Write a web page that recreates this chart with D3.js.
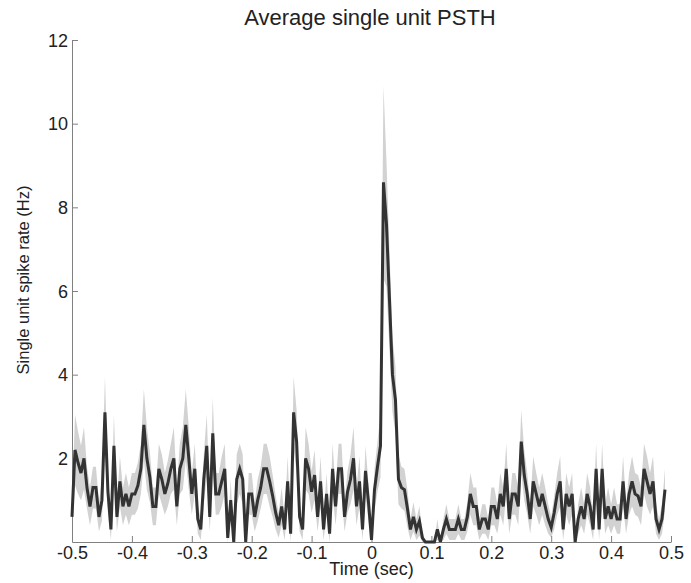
<!DOCTYPE html>
<html>
<head>
<meta charset="utf-8">
<script src="https://cdn.jsdelivr.net/npm/d3@7"></script>
<style>
  body { margin: 0; background: #fff; }
  svg { display: block; font-family: "Liberation Sans", Arial, sans-serif; }
</style>
</head>
<body>
<div id="chart"></div>
<script>
// mean single unit rate (Hz), one value per 5 ms bin starting at -0.5 s
const meanRate = [
  0.6, 2.2, 1.9, 1.65, 2.0, 1.3, 0.85, 1.3, 1.3, 0.6,
  1.0, 3.1, 1.2, 0.3, 2.3, 0.6, 1.45, 0.85, 1.15, 0.85,
  1.15, 1.15, 1.35, 1.75, 2.8, 2.0, 1.55, 0.85, 0.85, 1.75,
  1.5, 1.15, 1.4, 1.75, 2.0, 0.85, 1.75, 2.0, 2.8, 2.0,
  1.15, 1.75, 0.55, 0.3, 1.5, 2.3, 0.6, 2.6, 1.15, 1.15,
  1.45, 1.75, 0.1, 1.0, 0.0, 1.5, 1.75, 1.5, 0.0, 1.15,
  1.15, 0.6, 1.0, 1.3, 1.75, 1.75, 1.45, 1.1, 0.7, 0.4,
  0.85, 0.3, 1.45, 0.2, 3.1, 2.4, 0.6, 0.3, 2.0, 1.75,
  1.2, 1.6, 0.6, 1.45, 0.3, 1.15, 0.2, 1.75, 0.85, 1.75,
  1.75, 0.6, 1.2, 1.5, 2.0, 0.85, 1.45, 0.3, 1.7, 0.95,
  0.05, 1.25, 1.8, 2.3, 8.6, 7.6, 5.8, 4.0, 3.4, 1.5,
  1.3, 1.25, 0.8, 0.3, 0.6, 0.3, 0.5, 0.1, 0.0, 0.0,
  0.0, 0.0, 0.3, 0.0, 0.3, 0.55, 0.3, 0.3, 0.3, 0.55,
  0.3, 0.3, 0.6, 1.15, 0.85, 0.85, 0.3, 0.55, 0.55, 0.3,
  0.85, 0.85, 0.55, 1.15, 0.85, 1.75, 0.55, 1.15, 1.15, 0.85,
  2.4, 1.6, 1.15, 0.55, 1.45, 1.15, 0.85, 1.15, 0.85, 0.55,
  0.35, 0.7, 1.15, 1.45, 0.3, 1.15, 0.85, 1.15, 0.0, 0.55,
  0.85, 0.55, 1.15, 0.85, 0.3, 1.75, 0.3, 1.75, 0.55, 0.85,
  0.55, 0.85, 0.55, 0.55, 1.45, 0.55, 1.15, 1.45, 1.15, 1.1,
  0.85, 1.75, 1.45, 1.15, 1.45, 0.55, 0.3, 0.55, 1.25
];

// standard error of the mean for each bin (Hz)
const semRate = [
  0.35, 0.85, 0.75, 0.65, 0.75, 0.5, 0.45, 0.5, 0.5, 0.35,
  0.5, 0.85, 0.5, 0.25, 0.75, 0.35, 0.6, 0.45, 0.5, 0.45,
  0.5, 0.5, 0.55, 0.6, 0.85, 0.75, 0.6, 0.45, 0.45, 0.6,
  0.6, 0.5, 0.55, 0.6, 0.75, 0.45, 0.6, 0.75, 0.85, 0.75,
  0.5, 0.6, 0.35, 0.25, 0.6, 0.75, 0.35, 0.85, 0.5, 0.5,
  0.6, 0.6, 0.15, 0.5, 0.0, 0.6, 0.6, 0.6, 0.0, 0.5,
  0.5, 0.35, 0.5, 0.5, 0.6, 0.6, 0.6, 0.5, 0.4, 0.3,
  0.45, 0.25, 0.6, 0.2, 0.85, 0.75, 0.35, 0.25, 0.75, 0.6,
  0.5, 0.6, 0.35, 0.6, 0.25, 0.5, 0.2, 0.6, 0.45, 0.6,
  0.6, 0.35, 0.5, 0.6, 0.75, 0.45, 0.6, 0.25, 0.6, 0.45,
  0.1, 0.5, 0.6, 0.75, 2.3, 1.5, 1.2, 0.9, 0.8, 0.6,
  0.5, 0.5, 0.45, 0.25, 0.35, 0.25, 0.35, 0.1, 0.0, 0.0,
  0.0, 0.0, 0.25, 0.0, 0.25, 0.35, 0.25, 0.25, 0.25, 0.35,
  0.25, 0.25, 0.35, 0.5, 0.45, 0.45, 0.25, 0.35, 0.35, 0.25,
  0.45, 0.45, 0.35, 0.5, 0.45, 0.6, 0.35, 0.5, 0.5, 0.45,
  0.75, 0.6, 0.5, 0.35, 0.6, 0.5, 0.45, 0.5, 0.45, 0.35,
  0.25, 0.4, 0.5, 0.6, 0.25, 0.5, 0.45, 0.5, 0.0, 0.35,
  0.45, 0.35, 0.5, 0.45, 0.25, 0.6, 0.25, 0.6, 0.35, 0.45,
  0.35, 0.45, 0.35, 0.35, 0.6, 0.35, 0.5, 0.6, 0.5, 0.5,
  0.45, 0.6, 0.6, 0.5, 0.6, 0.35, 0.25, 0.35, 0.5
];

const binStart = -0.5; // sec
const binWidth = 0.005; // sec

const xTicks = [-0.5, -0.4, -0.3, -0.2, -0.1, 0, 0.1, 0.2, 0.3, 0.4, 0.5];
const yTicks = [2, 4, 6, 8, 10, 12];

const CHART_CONFIG = {
  width: 691,
  height: 583,
  margin: { top: 40, right: 20, bottom: 41, left: 72 },
  axisColor: "#808080",
  textColor: "#222",
  tickFontSize: 18,
  lineColor: "#333",
  bandColor: "#d2d2d2",
};

const { width, height, margin } = CHART_CONFIG;
const innerWidth = width - margin.left - margin.right;
const innerHeight = height - margin.top - margin.bottom;

const points = meanRate.map((m, i) => ({
  t: binStart + i * binWidth,
  mean: m,
  lo: Math.max(0, m - semRate[i]),
  hi: m + semRate[i],
}));

const svg = d3.select("#chart")
  .append("svg")
  .attr("width", width)
  .attr("height", height);

const group = svg.append("g").attr("transform", `translate(${margin.left},${margin.top})`);

const x = d3.scaleLinear().domain([-0.5, 0.5]).range([0, innerWidth]);
const y = d3.scaleLinear().domain([0, 12]).range([innerHeight, 0]);

// shaded error band
const band = d3.area()
  .x((d) => x(d.t))
  .y0((d) => y(d.lo))
  .y1((d) => y(d.hi));

group.append("path")
  .datum(points)
  .attr("d", band)
  .attr("fill", CHART_CONFIG.bandColor);

// x axis, ticks pointing into the plot
const xAxis = group.append("g")
  .attr("transform", `translate(0,${innerHeight})`)
  .call(d3.axisBottom(x)
    .tickValues(xTicks)
    .tickSize(-6)
    .tickSizeOuter(0)
    .tickPadding(4)
    .tickFormat((d) => String(d)));

// y axis
const yAxis = group.append("g")
  .call(d3.axisLeft(y)
    .tickValues(yTicks)
    .tickSize(-6)
    .tickSizeOuter(0)
    .tickPadding(4));

[xAxis, yAxis].forEach((axis) => {
  axis.attr("font-family", null).attr("font-size", CHART_CONFIG.tickFontSize);
  axis.selectAll("path, line").attr("stroke", CHART_CONFIG.axisColor);
  axis.selectAll("text").attr("fill", CHART_CONFIG.textColor);
});
// put label baselines in y directly instead of dy offsets
xAxis.selectAll("text").attr("y", 17).attr("dy", null);
yAxis.selectAll("text").attr("y", 6).attr("dy", null);

// mean rate line
const line = d3.line()
  .x((d) => x(d.t))
  .y((d) => y(d.mean));

group.append("path")
  .datum(points)
  .attr("d", line)
  .attr("fill", "none")
  .attr("stroke", CHART_CONFIG.lineColor)
  .attr("stroke-width", 3);

// title and labels
svg.append("text")
  .attr("x", 370)
  .attr("y", 25)
  .attr("text-anchor", "middle")
  .attr("font-size", 22)
  .attr("fill", CHART_CONFIG.textColor)
  .text("Average single unit PSTH");

svg.append("text")
  .attr("x", margin.left + innerWidth / 2)
  .attr("y", 575)
  .attr("text-anchor", "middle")
  .attr("font-size", 18)
  .attr("fill", CHART_CONFIG.textColor)
  .text("Time (sec)");

svg.append("text")
  .attr("transform", `translate(29,280) rotate(-90)`)
  .attr("text-anchor", "middle")
  .attr("font-size", 16.5)
  .attr("fill", CHART_CONFIG.textColor)
  .text("Single unit spike rate (Hz)");
</script>
</body>
</html>
